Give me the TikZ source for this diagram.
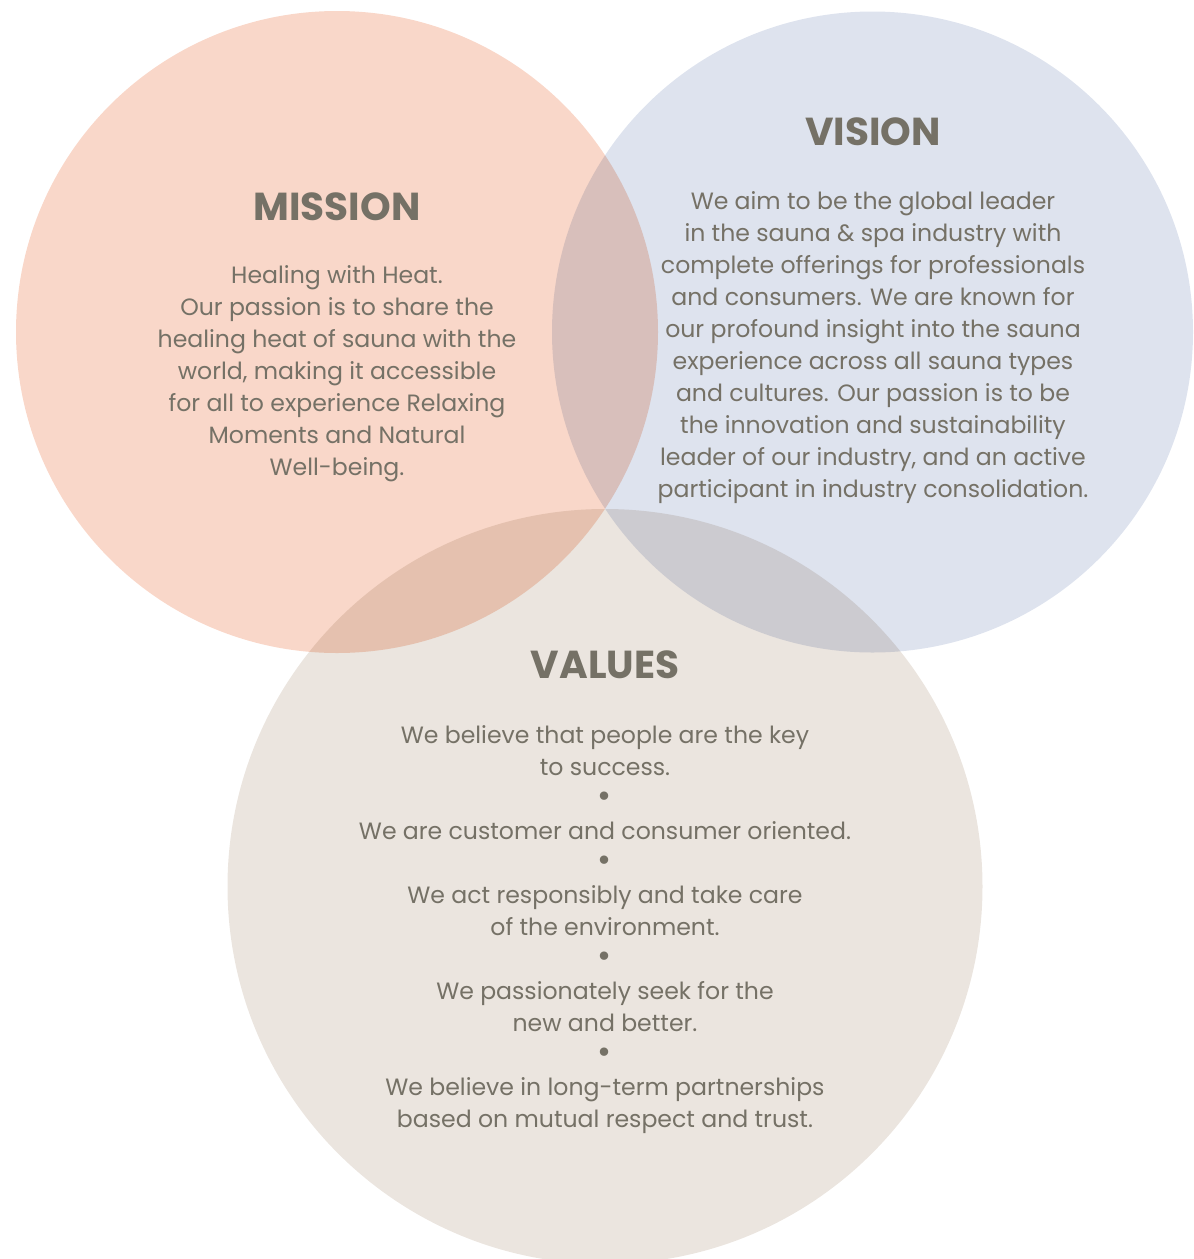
\documentclass[tikz,border=0pt]{standalone}
\usepackage{fontspec}
\setmainfont{Poppins}
\usetikzlibrary{positioning}
\definecolor{mpeach}{RGB}{249,215,201}
\definecolor{vblue}{RGB}{222,227,238}
\definecolor{vbeige}{RGB}{235,229,223}
\definecolor{txtgray}{RGB}{117,113,102}
\newcommand{\valbullet}{{\fontsize{34}{32}\selectfont •}}

\begin{document}
\begin{tikzpicture}[x=1pt,y=-1pt,
    blob/.style={circle,fill=#1,draw=none,inner sep=0},
    heading/.style={font=\fontsize{39}{39}\selectfont\bfseries,text=txtgray,inner sep=0,anchor=base},
    body/.style={font=\fontsize{23.6}{32}\selectfont,text=txtgray,align=center,inner sep=0}
    ]
    \useasboundingbox (0,0) rectangle (1194,1259);
    %%% De drie cirkels
    \begin{scope}[blend group=multiply]
        \node[blob=mpeach,minimum size=642pt] (mission) at (337,332) {};
        \node[blob=vblue,minimum size=641pt] (vision) at (872.5,332) {};
        \node[blob=vbeige,minimum size=755pt] (values) at (605,886.5) {};
    \end{scope}
    %%% Mission (base = laatste regel)
    \node[heading] (mission_title) at (337,220) {MISSION};
    \node[body,below=255pt of mission_title.base,anchor=base] (mission_text)
        {Healing with Heat.\\
         Our passion is to share the\\
         healing heat of sauna with the\\
         world, making it accessible\\
         for all to experience Relaxing\\
         Moments and Natural\\
         Well-being.};
    %%% Vision
    \node[heading] (vision_title) at (873,145) {VISION};
    \node[body,below=352pt of vision_title.base,anchor=base] (vision_text)
        {We aim to be the global leader\\
         in the sauna \& spa industry with\\
         complete offerings for professionals\\
         and consumers. We are known for\\
         our profound insight into the sauna\\
         experience across all sauna types\\
         and cultures. Our passion is to be\\
         the innovation and sustainability\\
         leader of our industry, and an active\\
         participant in industry consolidation.};
    %%% Values
    \node[heading] (values_title) at (605,678) {VALUES};
    \node[body,below=449pt of values_title.base,anchor=base] (values_text)
        {We believe that people are the key\\
         to success.\\
         \valbullet\\
         We are customer and consumer oriented.\\
         \valbullet\\
         We act responsibly and take care\\
         of the environment.\\
         \valbullet\\
         We passionately seek for the\\
         new and better.\\
         \valbullet\\
         We believe in long-term partnerships\\
         based on mutual respect and trust.};
\end{tikzpicture}
\end{document}
